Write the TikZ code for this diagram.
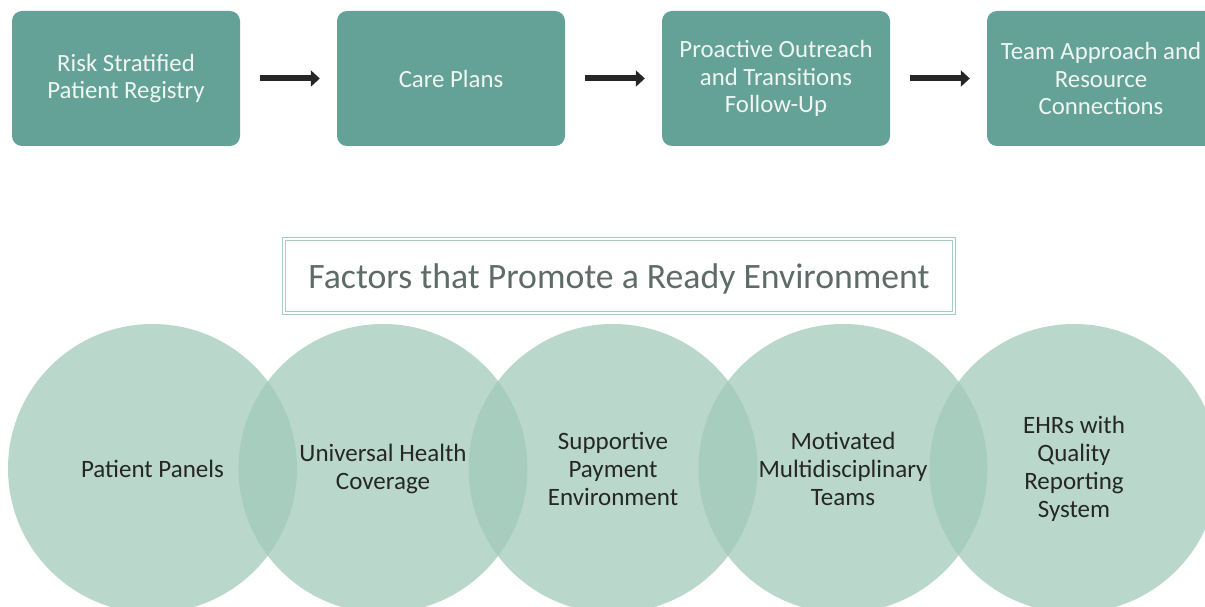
\documentclass[tikz,border=0pt]{standalone}
\usepackage{fontspec}
\setmainfont{Carlito}
\usetikzlibrary{arrows.meta}
\definecolor{boxfill}{RGB}{100,161,151}
\definecolor{boxtext}{RGB}{240,246,242}
\definecolor{circfill}{RGB}{159,201,184}
\definecolor{titleline}{RGB}{166,205,189}
\definecolor{titletext}{RGB}{95,107,102}
\definecolor{darktext}{RGB}{38,38,38}
\definecolor{arrowcol}{RGB}{38,38,38}
\tikzset{
  stepbox/.style={fill=boxfill, rounded corners=10pt, minimum width=228pt, minimum height=135pt,
    inner sep=0pt, text=boxtext, align=center, font=\fontsize{24.8}{27.5}\selectfont},
  flowarrow/.style={draw=arrowcol, line width=6pt, -{Triangle[length=9pt,width=16pt]},
    shorten <=20pt, shorten >=17pt},
  factor/.style={circle, fill=circfill, fill opacity=0.73, minimum size=289pt, inner sep=0pt},
  factortext/.style={text=darktext, align=center, font=\fontsize{25}{28}\selectfont},
}
\begin{document}
\begin{tikzpicture}[x=1pt,y=-1pt]
\useasboundingbox (0,0) rectangle (1205,607);
\clip (0,0) rectangle (1205,607);
% top flow
\node[stepbox] (b1) at (126,78.5) {Risk Stratified\\Patient Registry};
\node[stepbox] (b2) at (451,78.5) {Care Plans};
\node[stepbox] (b3) at (776,78.5) {Proactive Outreach\\and Transitions\\Follow-Up};
\node[stepbox] (b4) at (1101,78.5) {Team Approach and\\Resource\\Connections};
\draw[flowarrow] (b1.east) -- (b2.west);
\draw[flowarrow] (b2.east) -- (b3.west);
\draw[flowarrow] (b3.east) -- (b4.west);
% title
\node[draw=titleline, double=white, double distance=2pt, line width=1.2pt,
  minimum width=670pt, minimum height=74pt, inner sep=0pt, text depth=0pt,
  text=titletext, font=\fontsize{35.7}{40}\selectfont] (title) at (619,276) {Factors that Promote a Ready Environment};
% circles
\node[factor] (c1) at (152.5,468.5) {};
\node[factor] (c2) at (383,468.5) {};
\node[factor] (c3) at (613,468.5) {};
\node[factor] (c4) at (843,468.5) {};
\node[factor] (c5) at (1074,468.5) {};
\node[factortext] (t1) at (c1.center) {Patient Panels};
\node[factortext] (t2) at (c2.center) {Universal Health\\Coverage};
\node[factortext] (t3) at (c3.center) {Supportive\\Payment\\Environment};
\node[factortext] (t4) at (c4.center) {Motivated\\Multidisciplinary\\Teams};
\node[factortext] (t5) at (c5.center) {EHRs with\\Quality\\Reporting\\System};
\end{tikzpicture}
\end{document}
